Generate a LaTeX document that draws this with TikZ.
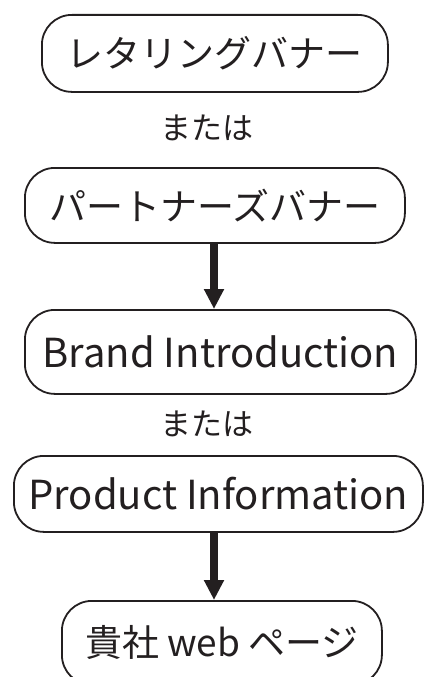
\documentclass[tikz,border=0pt]{standalone}
\usepackage{fontspec}
\setmainfont{Noto Sans CJK JP}
\usetikzlibrary{arrows.meta}
\definecolor{ink}{HTML}{231F20}
\tikzset{
  pill/.style={draw=ink, line width=1.8pt, rounded corners=30pt, text=ink, inner sep=0pt, anchor=north west},
  jp/.style={font=\fontsize{37}{40}\selectfont},
  lat/.style={font=\fontsize{40}{44}\selectfont},
  orlabel/.style={text=ink, font=\fontsize{31}{34}\selectfont, inner sep=0pt},
  flow/.style={draw=ink, line width=7.5pt, -{Triangle[width=19pt,length=20pt]}}
}
\begin{document}
\begin{tikzpicture}[x=1pt,y=-1pt]
\useasboundingbox (0,0) rectangle (426,677);
\node[pill, jp, minimum width=346pt, minimum height=77pt] (b1) at (41,14) {レタリングバナー};
\node[orlabel] (or1) at (207,128) {または};
\node[pill, jp, minimum width=380pt, minimum height=75pt] (b2) at (24,167) {パートナーズバナー};
\node[pill, lat, minimum width=391pt, minimum height=84pt] (b3) at (24,309) {Brand Introduction};
\node[orlabel] (or2) at (207,424) {または};
\node[pill, lat, minimum width=409pt, minimum height=76pt] (b4) at (13,455) {Product Information};
\node[pill, jp, minimum width=320pt, minimum height=84pt] (b5) at (61,600) {貴社 web ページ};
\coordinate (ax) at (214,0);
\draw[flow] (ax |- b2.south) -- (ax |- b3.north);
\draw[flow] (ax |- b4.south) -- (ax |- b5.north);
\end{tikzpicture}
\end{document}
